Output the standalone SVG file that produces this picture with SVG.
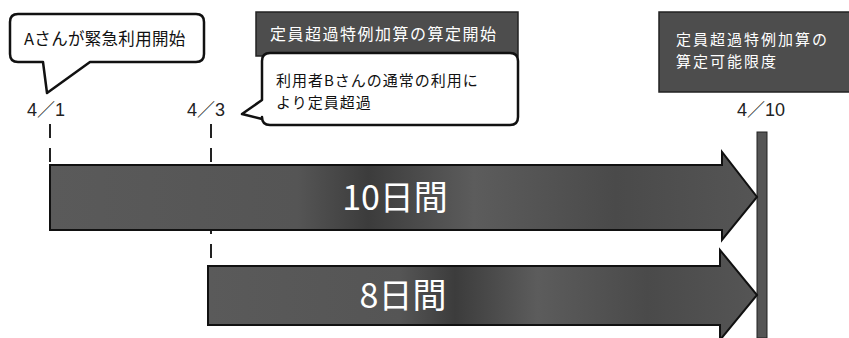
<svg xmlns="http://www.w3.org/2000/svg" width="849" height="338" viewBox="0 0 849 338">
<style>
.t{font-family:"Noto Sans CJK JP","Liberation Sans",sans-serif;}
.lbl{font-family:"Liberation Sans","Noto Sans CJK JP",sans-serif;font-size:18px;fill:#222;}
.bub{fill:#fff;stroke:#111;stroke-width:2.5;stroke-linejoin:round;}
.dark{fill:#4d4d4d;stroke:#222;stroke-width:1.5;}
.arrow{fill:url(#g);stroke:#111;stroke-width:2;}
.dash{stroke:#222;stroke-width:2;stroke-dasharray:14 10;fill:none;}
</style>
<defs>
<linearGradient id="g" x1="0" y1="0" x2="1" y2="0">
<stop offset="0" stop-color="#5a5a5a"/>
<stop offset="0.35" stop-color="#555"/>
<stop offset="0.45" stop-color="#3c3c3c"/>
<stop offset="0.6" stop-color="#5c5c5c"/>
<stop offset="0.8" stop-color="#4a4a4a"/>
<stop offset="1" stop-color="#555"/>
</linearGradient>
</defs>
<g id="connectors">
<line class="dash" x1="50" y1="124" x2="50" y2="166"/>
<line class="dash" x1="211" y1="124" x2="211" y2="266"/>
</g>
<g id="bar410">
<rect x="757" y="132" width="10" height="206" fill="#555" stroke="#222" stroke-width="1"/>
</g>
<g id="arrow10">
<path class="arrow" d="M50,165 H722 V152 L757,197 L722,240 V230 H50 Z"/>
<text class="t" x="395" y="210" font-size="34" fill="#fff" text-anchor="middle">10日間</text>
</g>
<g id="arrow8">
<path class="arrow" d="M208,266 H720 V250 L757,295 L720,340 V325 H208 Z"/>
<text class="t" x="403" y="308" font-size="34" fill="#fff" text-anchor="middle">8日間</text>
</g>
<g id="bubbleA">
<path class="bub" d="M18,14 H196 Q204,14 204,22 V54 Q204,62 196,62 H90 L47,93 L43,62 H18 Q10,62 10,54 V22 Q10,14 18,14 Z"/>
<text class="t" x="24" y="45" font-size="16.5" fill="#111" letter-spacing="0.3">Aさんが緊急利用開始</text>
</g>
<g id="start">
<rect class="dark" x="256" y="12" width="262" height="44"/>
<text class="t" x="270" y="40" font-size="16" fill="#fff" letter-spacing="1.5">定員超過特例加算の算定開始</text>
</g>
<g id="bubbleB">
<path class="bub" d="M270,53 H510 Q518,53 518,61 V117 Q518,125 510,125 H270 Q262,125 262,117 V119 L242,114 L262,100 V61 Q262,53 270,53 Z"/>
<text class="t" x="276" y="86" font-size="15" fill="#111" letter-spacing="1">利用者Bさんの通常の利用に</text>
<text class="t" x="276" y="108" font-size="15" fill="#111" letter-spacing="1">より定員超過</text>
</g>
<g id="limit">
<rect class="dark" x="659" y="12" width="192" height="80"/>
<text class="t" x="676" y="45" font-size="15" fill="#fff" letter-spacing="2">定員超過特例加算の</text>
<text class="t" x="676" y="67" font-size="15" fill="#fff" letter-spacing="2">算定可能限度</text>
</g>
<g id="dates">
<text class="lbl" x="27" y="116">4／1</text>
<text class="lbl" x="187" y="116">4／3</text>
<text class="lbl" x="737" y="116">4／10</text>
</g>
</svg>
